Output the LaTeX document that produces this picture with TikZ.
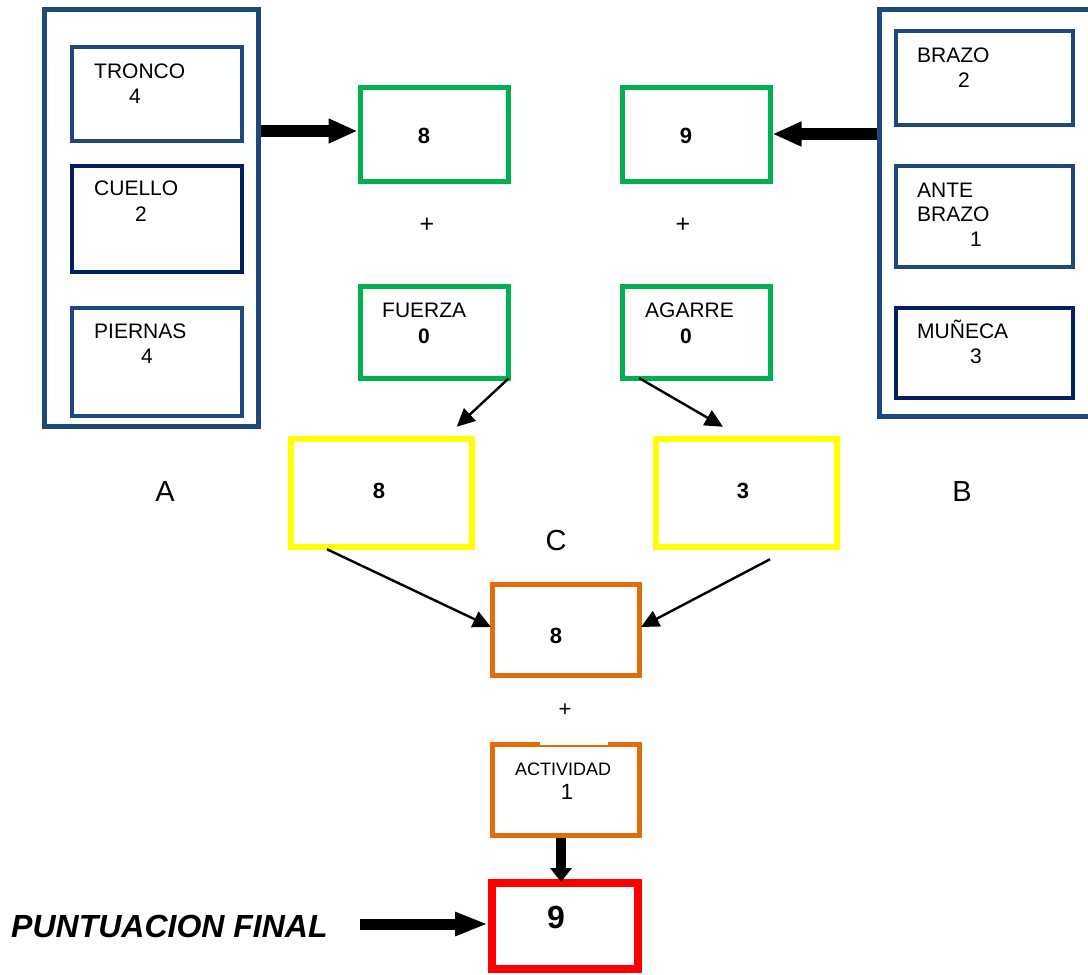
\documentclass[tikz,border=0pt]{standalone}
\usepackage{fontspec}
\setmainfont{Liberation Sans}
\usetikzlibrary{arrows.meta,calc}

\definecolor{navyline}{RGB}{31,73,125}
\definecolor{navydeep}{RGB}{0,32,96}
\definecolor{boxgreen}{RGB}{0,176,80}
\definecolor{boxyellow}{RGB}{255,255,0}
\definecolor{boxorange}{RGB}{227,108,10}
\definecolor{boxred}{RGB}{255,0,0}

\newcommand\setfs[1]{\fontsize{#1}{#1}\selectfont}

\tikzset{
  panel/.style={draw=navyline, line width=5pt, inner sep=0pt},
  part/.style={draw=navyline, line width=4pt, inner sep=0pt},
  partdeep/.style={draw=navydeep, line width=4pt, inner sep=0pt},
  greenbox/.style={draw=boxgreen, line width=5pt, inner sep=0pt},
  yellowbox/.style={draw=boxyellow, line width=5.5pt, inner sep=0pt},
  orangebox/.style={draw=boxorange, line width=5pt, inner sep=0pt},
  redbox/.style={draw=boxred, line width=8pt, inner sep=0pt},
  lbl/.style={inner sep=0pt, font=\setfs{21}},
  smalllbl/.style={inner sep=0pt, font=\setfs{18}},
  plus/.style={inner sep=0pt, font=\setfs{25}},
  num/.style={inner sep=0pt, font=\setfs{22}\bfseries},
  bignum/.style={inner sep=0pt, font=\setfs{32}\bfseries},
  letter/.style={inner sep=0pt, font=\setfs{29}},
  thinarrow/.style={line width=2.4pt, -{Triangle[length=18pt,width=17pt]}},
  fatarrow/.style={line width=12pt, -{Triangle[length=29pt,width=23pt]}},
  downarrow/.style={line width=10pt, -{Triangle[length=14pt,width=21pt]}},
  finalarrow/.style={line width=11pt, -{Triangle[length=33pt,width=22pt]}},
}

\begin{document}
\begin{tikzpicture}[x=1pt,y=-1pt]
\useasboundingbox (0,0) rectangle (1088,975);

% group A: trunk, neck, legs
\node[panel, minimum width=214pt, minimum height=417pt] (A) at (151,217.5) {};
\node[part, minimum width=170pt, minimum height=94pt] (tronco) at (157,94) {};
\node[partdeep, minimum width=170pt, minimum height=106pt] (cuello) at (157,219) {};
\node[part, minimum width=170pt, minimum height=108pt] (piernas) at (157,362) {};
\node[lbl, anchor=base west] (tTronco) at (94,78) {TRONCO};
\node[lbl, anchor=base] (vTronco) at (135,103) {4};
\node[lbl, anchor=base west] (tCuello) at (94,195) {CUELLO};
\node[lbl, anchor=base] (vCuello) at (141,221) {2};
\node[lbl, anchor=base west] (tPiernas) at (94,338) {PIERNAS};
\node[lbl, anchor=base] (vPiernas) at (147,363) {4};

% group B: arm, forearm, wrist
\node[panel, minimum width=221pt, minimum height=407pt] (B) at (989.5,212.5) {};
\node[part, minimum width=177pt, minimum height=94pt] (brazo) at (984.5,78) {};
\node[part, minimum width=177pt, minimum height=101pt] (ante) at (984.5,216.5) {};
\node[partdeep, minimum width=177pt, minimum height=90pt] (muneca) at (984.5,353) {};
\node[lbl, anchor=base west] (tBrazo) at (917,62) {BRAZO};
\node[lbl, anchor=base] (vBrazo) at (964,87) {2};
\node[lbl, anchor=base west] (tAnte) at (917,197) {ANTE};
\node[lbl, anchor=base west] (tAnte2) at (917,221) {BRAZO};
\node[lbl, anchor=base] (vAnte) at (976,246) {1};
\node[lbl, anchor=base west] (tMuneca) at (917,338) {MUÑECA};
\node[lbl, anchor=base] (vMuneca) at (976,363) {3};

% green boxes
\node[greenbox, minimum width=148pt, minimum height=94pt] (g8) at (434,134) {};
\node[greenbox, minimum width=148pt, minimum height=94pt] (g9) at (696,134) {};
\node[greenbox, minimum width=148pt, minimum height=92pt] (fuerza) at (434,332) {};
\node[greenbox, minimum width=148pt, minimum height=92pt] (agarre) at (696,332) {};
\node[num, anchor=base] (vg8) at (424,143.5) {8};
\node[num, anchor=base] (vg9) at (686,143.5) {9};
\node[plus] (plusL) at (427,225) {+};
\node[plus] (plusR) at (683,225) {+};
\node[lbl, anchor=base west] (tFuerza) at (382,317) {FUERZA};
\node[num, font=\setfs{21}\bfseries, anchor=base] (vFuerza) at (424,343) {0};
\node[lbl, anchor=base west] (tAgarre) at (645,317) {AGARRE};
\node[num, font=\setfs{21}\bfseries, anchor=base] (vAgarre) at (686,343) {0};

% yellow boxes
\node[yellowbox, minimum width=181pt, minimum height=108pt] (y8) at (381.5,493) {};
\node[yellowbox, minimum width=181pt, minimum height=108pt] (y3) at (746.5,493) {};
\node[num, anchor=base] (vy8) at (379,498) {8};
\node[num, anchor=base] (vy3) at (743,498) {3};

% orange boxes
\node[orangebox, minimum width=147pt, minimum height=91pt] (o8) at (566,630) {};
\node[num, anchor=base] (vo8) at (556,643) {8};
\node[orangebox, minimum width=147pt, minimum height=91pt] (act) at (566,790) {};
\fill[white] (540,735) rectangle (608,744.8);
\node[plus, font=\setfs{22}] (plusC) at (565,710) {+};
\node[smalllbl, anchor=base west] (tAct) at (515,775) {ACTIVIDAD};
\node[lbl, font=\setfs{22}, anchor=base] (vAct) at (567,799) {1};

% final score
\node[redbox, minimum width=146pt, minimum height=86pt] (red) at (565,926) {};
\node[bignum, anchor=base] (vRed) at (556,928) {9};
\node[inner sep=0pt, font=\setfs{32}\bfseries\itshape, anchor=base west] (final) at (11,937) {PUNTUACION FINAL};
\coordinate (finalstart) at (360,924);

% group letters
\node[letter] (lA) at (165,492) {A};
\node[letter] (lB) at (962,492) {B};
\node[letter] (lC) at (556,541) {C};

% connectors
\draw[fatarrow] (A.east |- g8.west) ++(0,-3) -- ($(g8.west)+(0,-3)$);
\draw[fatarrow] (B.west |- g9.east) -- (g9.east);
\draw[thinarrow] ($(fuerza.south east)+(-2,-2)$) -- ($(y8.north east)+(-18,-9.5)$);
\draw[thinarrow] ($(agarre.south west)+(19.5,-2.5)$) -- ($(y3.north)+(-23.5,-9.5)$);
\draw[thinarrow] ($(y8.south)+(-54.5,-0.5)$) -- ($(o8.west)+(1,-3)$);
\draw[thinarrow] ($(y3.south)+(23.5,9.5)$) -- ($(o8.east)+(-1,-3)$);
\draw[downarrow] ($(act.south)+(-5,0)$) -- ($(red.north)+(-4,3)$);
\draw[finalarrow] (finalstart) -- (finalstart -| red.west);
\end{tikzpicture}
\end{document}
